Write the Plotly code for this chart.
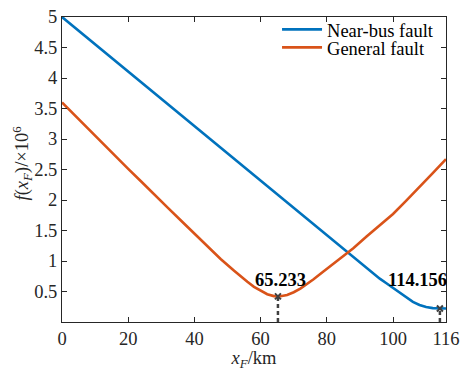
import plotly.graph_objects as go

# Data
x_general = [0, 4, 8, 12, 16, 20, 24, 28, 32, 36, 40, 44, 48, 52, 54, 56, 58, 60, 62, 64, 65.233,
             66, 68, 70, 72, 74, 76, 78, 80, 84, 88, 92, 96, 100, 104, 108, 112, 116]
y_general = [3.60, 3.38, 3.16, 2.95, 2.73, 2.51, 2.30, 2.08, 1.87, 1.66, 1.45, 1.24, 1.03, 0.84, 0.745, 0.66, 0.577, 0.51, 0.456, 0.425, 0.42,
             0.422, 0.444, 0.488, 0.548, 0.62, 0.70, 0.786, 0.87, 1.03, 1.21, 1.40, 1.58, 1.77, 1.99, 2.21, 2.44, 2.67]

x_nearbus = [0, 10, 20, 30, 40, 50, 60, 70, 80, 86, 90, 92, 94, 96, 98, 100, 102, 104, 106, 108, 110, 112, 114.156, 116]
y_nearbus = [5.0, 4.552, 4.104, 3.656, 3.208, 2.76, 2.312, 1.864, 1.416, 1.15, 0.968, 0.88, 0.79, 0.71, 0.635, 0.56, 0.48, 0.40, 0.33, 0.28, 0.245, 0.228, 0.22, 0.222]

min_x = [65.233, 114.156]
min_y = [0.42, 0.22]
min_labels = ["65.233", "114.156"]

x_ticks = [0, 20, 40, 60, 80, 100, 116]
y_ticks = [0.5, 1, 1.5, 2, 2.5, 3, 3.5, 4, 4.5, 5]
y_ticklabels = ["0.5", "1", "1.5", "2", "2.5", "3", "3.5", "4", "4.5", "5"]

BLUE = "#0072BD"
ORANGE = "#D95319"
GRAY = "#404040"
AX = "#262626"
FONT = "Liberation Serif, DejaVu Serif, serif"
FS = 18.5

fig = go.Figure()
fig.add_trace(go.Scatter(x=x_nearbus, y=y_nearbus, mode="lines", name="Near-bus fault",
                         legend="legend", line=dict(color=BLUE, width=2.6)))
fig.add_trace(go.Scatter(x=x_general, y=y_general, mode="lines", name="General fault",
                         legend="legend2", line=dict(color=ORANGE, width=2.6)))

for mx, my in zip(min_x, min_y):
    fig.add_trace(go.Scatter(x=[mx, mx], y=[0, my], mode="lines", showlegend=False,
                             line=dict(color=GRAY, width=2.5, dash="4px,3px")))
fig.add_trace(go.Scatter(x=min_x, y=min_y, mode="markers", showlegend=False,
                         marker=dict(symbol="x-thin", size=6, color=GRAY,
                                     line=dict(color=GRAY, width=2))))

label_pos = [(65.9, 0.685), (107.3, 0.685)]
for (lx, ly), txt in zip(label_pos, min_labels):
    fig.add_annotation(x=lx, y=ly, text="<b>%s</b>" % txt, showarrow=False,
                       font=dict(family=FONT, size=FS, color="black"),
                       xanchor="center", yanchor="middle")

# y-axis title
fig.add_annotation(x=-0.104, y=0.52, xref="paper", yref="paper", textangle=-90,
                   text="<i>f</i>(<i>x</i><sub><i>F</i></sub>)/×10<sup>6</sup>", showarrow=False,
                   font=dict(family=FONT, size=FS, color=AX), xanchor="center", yanchor="middle")

leg_common = dict(xanchor="left", yanchor="middle", bgcolor="rgba(0,0,0,0)", borderwidth=0,
                  font=dict(family=FONT, size=FS, color="black"), itemwidth=40)

fig.update_layout(
    width=467, height=371,
    margin=dict(l=62, r=15, t=7, b=43),
    paper_bgcolor="white", plot_bgcolor="white",
    font=dict(family=FONT, size=FS, color=AX),
    showlegend=True,
    legend=dict(x=0.56, y=0.958, **leg_common),
    legend2=dict(x=0.56, y=0.899, **leg_common),
    xaxis=dict(range=[0, 116.0001], tickvals=x_ticks, ticktext=[str(v) for v in x_ticks],
               ticks="inside", ticklen=5, tickwidth=1, tickcolor=AX,
               showline=True, linecolor=AX, linewidth=1, mirror="ticks",
               showgrid=False, zeroline=False, ticklabeloverflow="allow",
               tickfont=dict(family=FONT, size=FS, color=AX),
               title=dict(text="<i>x</i><sub><i>F</i></sub>/km", standoff=2,
                          font=dict(family=FONT, size=FS, color=AX))),
    yaxis=dict(range=[0, 5.0001], tickvals=y_ticks, ticktext=y_ticklabels,
               ticks="inside", ticklen=5, tickwidth=1, tickcolor=AX,
               showline=True, linecolor=AX, linewidth=1, mirror="ticks",
               showgrid=False, zeroline=False, ticklabeloverflow="allow",
               tickfont=dict(family=FONT, size=FS, color=AX)),
)

fig.write_html("out.html")
